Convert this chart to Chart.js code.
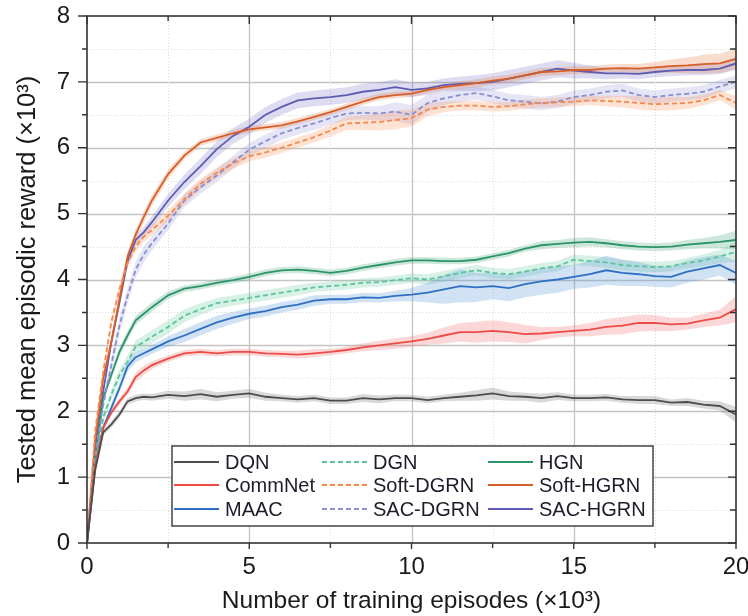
<!DOCTYPE html>
<html>
<head>
<meta charset="utf-8">
<script src="https://cdn.jsdelivr.net/npm/chart.js@4.4.0/dist/chart.umd.min.js"></script>
<style>
  html, body { margin: 0; padding: 0; background: #fff; }
  #wrap { width: 748px; height: 616px; }
</style>
</head>
<body>
<div id="wrap"><canvas id="myChart"></canvas></div>
<script>
  // training episodes (x10^3)
  const episodes = [0, 0.25, 0.5, 0.75, 1, 1.25, 1.5, 1.75, 2, 2.5, 3, 3.5, 4, 4.5, 5, 5.5, 6, 6.5, 7, 7.5, 8, 8.5, 9, 9.5,
    10, 10.5, 11, 11.5, 12, 12.5, 13, 13.5, 14, 14.5, 15, 15.5, 16, 16.5, 17, 17.5, 18, 18.5, 19, 19.5, 20];

  // mean reward (x10^3) and spread of the shaded band
  const dqn = [0, 1.1, 1.68, 1.8, 1.95, 2.15, 2.2, 2.22, 2.21, 2.25, 2.23, 2.26, 2.22, 2.25, 2.27, 2.22, 2.2, 2.18, 2.2, 2.16, 2.16, 2.2, 2.18, 2.2,
    2.2, 2.17, 2.2, 2.22, 2.24, 2.27, 2.23, 2.22, 2.2, 2.23, 2.2, 2.2, 2.21, 2.18, 2.17, 2.17, 2.13, 2.14, 2.1, 2.08, 1.95];
  const dqnSpread = [0.03, 0.04, 0.05, 0.05, 0.05, 0.05, 0.05, 0.05, 0.05, 0.06, 0.07, 0.08, 0.07, 0.06, 0.07, 0.06, 0.05, 0.05, 0.05, 0.05, 0.05, 0.06, 0.06, 0.05,
    0.05, 0.05, 0.05, 0.06, 0.08, 0.09, 0.07, 0.06, 0.07, 0.06, 0.05, 0.05, 0.05, 0.05, 0.06, 0.06, 0.05, 0.06, 0.06, 0.07, 0.12];

  const commNet = [0, 1.15, 1.75, 1.98, 2.15, 2.3, 2.52, 2.62, 2.7, 2.8, 2.88, 2.9, 2.88, 2.9, 2.9, 2.88, 2.87, 2.86, 2.88, 2.9, 2.93, 2.97, 3.0, 3.03,
    3.06, 3.1, 3.15, 3.2, 3.2, 3.22, 3.2, 3.17, 3.18, 3.2, 3.22, 3.24, 3.28, 3.3, 3.34, 3.34, 3.32, 3.33, 3.38, 3.42, 3.55];
  const commNetSpread = [0.03, 0.04, 0.05, 0.05, 0.05, 0.06, 0.07, 0.07, 0.06, 0.05, 0.05, 0.05, 0.05, 0.05, 0.05, 0.05, 0.05, 0.06, 0.06, 0.05, 0.05, 0.06, 0.07, 0.08,
    0.08, 0.09, 0.12, 0.14, 0.16, 0.16, 0.15, 0.14, 0.1, 0.08, 0.08, 0.1, 0.12, 0.13, 0.13, 0.12, 0.1, 0.09, 0.1, 0.12, 0.2];

  const maac = [0, 1.15, 1.75, 2.05, 2.35, 2.68, 2.82, 2.88, 2.94, 3.06, 3.15, 3.25, 3.35, 3.42, 3.48, 3.52, 3.58, 3.62, 3.68, 3.7, 3.7, 3.73, 3.72, 3.75,
    3.77, 3.8, 3.85, 3.9, 3.88, 3.9, 3.87, 3.93, 3.97, 4.0, 4.04, 4.08, 4.14, 4.1, 4.08, 4.05, 4.04, 4.12, 4.17, 4.22, 4.1];
  const maacSpread = [0.03, 0.04, 0.05, 0.06, 0.07, 0.08, 0.08, 0.07, 0.07, 0.08, 0.1, 0.1, 0.1, 0.09, 0.08, 0.08, 0.08, 0.08, 0.08, 0.07, 0.07, 0.07, 0.07, 0.08,
    0.1, 0.15, 0.22, 0.25, 0.22, 0.2, 0.2, 0.2, 0.2, 0.2, 0.18, 0.2, 0.22, 0.2, 0.18, 0.16, 0.16, 0.17, 0.17, 0.16, 0.18];

  const dgn = [0, 1.2, 1.9, 2.25, 2.55, 2.75, 2.98, 3.05, 3.13, 3.28, 3.45, 3.55, 3.64, 3.68, 3.72, 3.76, 3.8, 3.84, 3.88, 3.9, 3.92, 3.95, 3.96, 3.99,
    4.02, 4.0, 4.05, 4.1, 4.14, 4.1, 4.08, 4.12, 4.17, 4.2, 4.3, 4.28, 4.26, 4.22, 4.2, 4.19, 4.2, 4.25, 4.29, 4.35, 4.42];
  const dgnSpread = [0.03, 0.05, 0.07, 0.08, 0.09, 0.1, 0.1, 0.1, 0.1, 0.1, 0.1, 0.09, 0.08, 0.08, 0.08, 0.08, 0.08, 0.08, 0.07, 0.07, 0.07, 0.07, 0.07, 0.07,
    0.07, 0.08, 0.08, 0.08, 0.08, 0.08, 0.08, 0.08, 0.08, 0.08, 0.08, 0.08, 0.08, 0.08, 0.08, 0.08, 0.08, 0.08, 0.09, 0.1, 0.15];

  const hgn = [0, 1.25, 2.2, 2.55, 2.9, 3.15, 3.38, 3.48, 3.58, 3.76, 3.86, 3.9, 3.95, 3.99, 4.04, 4.1, 4.14, 4.15, 4.13, 4.1, 4.13, 4.18, 4.22, 4.26,
    4.29, 4.29, 4.28, 4.28, 4.3, 4.35, 4.4, 4.47, 4.52, 4.54, 4.56, 4.57, 4.55, 4.52, 4.5, 4.49, 4.5, 4.53, 4.55, 4.57, 4.6];
  const hgnSpread = [0.03, 0.04, 0.05, 0.06, 0.07, 0.07, 0.07, 0.07, 0.07, 0.06, 0.05, 0.05, 0.05, 0.05, 0.05, 0.05, 0.05, 0.05, 0.05, 0.05, 0.05, 0.05, 0.05, 0.05,
    0.05, 0.05, 0.05, 0.05, 0.05, 0.05, 0.05, 0.05, 0.06, 0.06, 0.07, 0.07, 0.06, 0.06, 0.06, 0.06, 0.06, 0.07, 0.08, 0.1, 0.14];

  const softDgrn = [0, 1.7, 2.6, 3.35, 3.85, 4.25, 4.5, 4.65, 4.75, 4.97, 5.22, 5.45, 5.62, 5.76, 5.87, 5.93, 6.0, 6.08, 6.16, 6.26, 6.37, 6.38, 6.39, 6.42,
    6.45, 6.58, 6.62, 6.64, 6.64, 6.62, 6.63, 6.66, 6.68, 6.69, 6.7, 6.72, 6.71, 6.7, 6.68, 6.66, 6.67, 6.68, 6.72, 6.8, 6.68];
  const softDgrnSpread = [0.04, 0.06, 0.08, 0.08, 0.08, 0.08, 0.08, 0.08, 0.08, 0.08, 0.08, 0.08, 0.08, 0.08, 0.08, 0.08, 0.08, 0.08, 0.08, 0.09, 0.1, 0.11, 0.13, 0.14,
    0.13, 0.1, 0.08, 0.07, 0.07, 0.07, 0.07, 0.07, 0.07, 0.07, 0.07, 0.07, 0.08, 0.09, 0.1, 0.1, 0.1, 0.09, 0.08, 0.08, 0.1];

  const softHgrn = [0, 1.55, 2.5, 3.05, 3.7, 4.35, 4.68, 4.95, 5.2, 5.6, 5.88, 6.08, 6.15, 6.22, 6.28, 6.31, 6.34, 6.4, 6.47, 6.54, 6.62, 6.7, 6.77, 6.8,
    6.82, 6.88, 6.92, 6.95, 6.98, 7.02, 7.05, 7.1, 7.15, 7.16, 7.18, 7.18, 7.2, 7.21, 7.2, 7.22, 7.24, 7.25, 7.27, 7.28, 7.35];
  const softHgrnSpread = [0.04, 0.06, 0.08, 0.08, 0.08, 0.08, 0.08, 0.08, 0.08, 0.07, 0.06, 0.05, 0.05, 0.05, 0.05, 0.05, 0.05, 0.05, 0.05, 0.05, 0.05, 0.05, 0.05, 0.05,
    0.05, 0.05, 0.05, 0.06, 0.06, 0.06, 0.06, 0.06, 0.06, 0.06, 0.06, 0.06, 0.06, 0.06, 0.07, 0.08, 0.1, 0.12, 0.14, 0.15, 0.15];

  const sacDgrn = [0, 1.3, 2.1, 2.7, 3.3, 3.75, 4.15, 4.38, 4.55, 4.85, 5.2, 5.4, 5.58, 5.78, 5.97, 6.1, 6.22, 6.3, 6.37, 6.45, 6.52, 6.53, 6.52, 6.55,
    6.5, 6.68, 6.75, 6.8, 6.83, 6.78, 6.72, 6.7, 6.67, 6.7, 6.77, 6.8, 6.85, 6.87, 6.8, 6.77, 6.8, 6.82, 6.85, 6.93, 7.0];
  const sacDgrnSpread = [0.04, 0.08, 0.1, 0.12, 0.12, 0.12, 0.12, 0.12, 0.11, 0.1, 0.1, 0.1, 0.1, 0.1, 0.1, 0.1, 0.1, 0.1, 0.1, 0.1, 0.1, 0.1, 0.11, 0.14,
    0.15, 0.13, 0.1, 0.1, 0.1, 0.1, 0.1, 0.1, 0.1, 0.1, 0.1, 0.1, 0.1, 0.1, 0.1, 0.1, 0.1, 0.1, 0.1, 0.1, 0.1];

  const sacHgrn = [0, 1.45, 2.3, 3.05, 3.65, 4.28, 4.6, 4.72, 4.87, 5.2, 5.48, 5.72, 5.98, 6.18, 6.32, 6.5, 6.62, 6.72, 6.75, 6.77, 6.8, 6.85, 6.88, 6.92,
    6.88, 6.9, 6.95, 6.97, 6.98, 7.0, 7.05, 7.1, 7.15, 7.2, 7.17, 7.15, 7.13, 7.13, 7.12, 7.15, 7.17, 7.18, 7.18, 7.2, 7.28];
  const sacHgrnSpread = [0.04, 0.07, 0.08, 0.08, 0.08, 0.08, 0.08, 0.08, 0.09, 0.1, 0.11, 0.12, 0.12, 0.12, 0.12, 0.12, 0.12, 0.12, 0.12, 0.12, 0.12, 0.12, 0.12, 0.12,
    0.11, 0.1, 0.1, 0.11, 0.12, 0.13, 0.13, 0.13, 0.13, 0.13, 0.12, 0.1, 0.09, 0.08, 0.08, 0.08, 0.08, 0.08, 0.08, 0.08, 0.1];

  // legend order is column by column, like the figure
  const seriesList = [
    { label: 'DQN', values: dqn, spread: dqnSpread, color: '#4d4d4d', band: 'rgba(120,120,120,0.28)', dash: [] },
    { label: 'CommNet', values: commNet, spread: commNetSpread, color: '#ee4b47', band: 'rgba(240,110,110,0.28)', dash: [] },
    { label: 'MAAC', values: maac, spread: maacSpread, color: '#2f6fc4', band: 'rgba(90,150,215,0.28)', dash: [] },
    { label: 'DGN', values: dgn, spread: dgnSpread, color: '#5cc49c', band: 'rgba(110,205,170,0.28)', dash: [5, 3] },
    { label: 'Soft-DGRN', values: softDgrn, spread: softDgrnSpread, color: '#f5894d', band: 'rgba(250,150,100,0.28)', dash: [5, 3] },
    { label: 'SAC-DGRN', values: sacDgrn, spread: sacDgrnSpread, color: '#8a8fd2', band: 'rgba(150,150,215,0.25)', dash: [5, 3] },
    { label: 'HGN', values: hgn, spread: hgnSpread, color: '#2b9569', band: 'rgba(60,160,120,0.25)', dash: [] },
    { label: 'Soft-HGRN', values: softHgrn, spread: softHgrnSpread, color: '#d75f27', band: 'rgba(230,130,80,0.28)', dash: [] },
    { label: 'SAC-HGRN', values: sacHgrn, spread: sacHgrnSpread, color: '#5f5cb3', band: 'rgba(120,115,195,0.25)', dash: [] }
  ];

  const fontFamily = "'Liberation Sans', Arial, sans-serif";

  const datasets = [];
  const lineSets = [];
  seriesList.forEach(s => {
    const lower = episodes.map((x, i) => ({ x: x, y: s.values[i] - s.spread[i] }));
    const upper = episodes.map((x, i) => ({ x: x, y: s.values[i] + s.spread[i] }));
    datasets.push({ data: lower, borderWidth: 0, pointRadius: 0, fill: false, order: 2 });
    datasets.push({ data: upper, borderWidth: 0, pointRadius: 0, fill: '-1', backgroundColor: s.band, order: 2 });
  });
  seriesList.forEach(s => {
    const line = {
      label: s.label,
      data: episodes.map((x, i) => ({ x: x, y: s.values[i] })),
      borderColor: s.color,
      borderWidth: 1.8,
      borderDash: s.dash,
      pointRadius: 0,
      fill: false,
      tension: 0,
      order: 1
    };
    datasets.push(line);
    lineSets.push(line);
  });

  // grid, frame, inner/outer ticks and the boxed legend
  const framePlugin = {
    id: 'frame',
    beforeDatasetsDraw(chart) {
      const { ctx, chartArea: a, scales: { x, y } } = chart;
      ctx.save();
      for (let v = 0.5; v < 8; v += 0.5) {
        const py = Math.round(y.getPixelForValue(v)) + 0.5;
        ctx.beginPath();
        if (v % 1 === 0) { ctx.strokeStyle = '#c4c4c4'; ctx.lineWidth = 1.3; ctx.setLineDash([]); }
        else { ctx.strokeStyle = '#dadada'; ctx.lineWidth = 1; ctx.setLineDash([1, 2]); }
        ctx.moveTo(a.left, py); ctx.lineTo(a.right, py); ctx.stroke();
      }
      for (let v = 2.5; v < 20; v += 2.5) {
        const px = Math.round(x.getPixelForValue(v)) + 0.5;
        ctx.beginPath();
        if (v % 5 === 0) { ctx.strokeStyle = '#c4c4c4'; ctx.lineWidth = 1.3; ctx.setLineDash([]); }
        else { ctx.strokeStyle = '#dadada'; ctx.lineWidth = 1; ctx.setLineDash([1, 2]); }
        ctx.moveTo(px, a.top); ctx.lineTo(px, a.bottom); ctx.stroke();
      }
      ctx.restore();
    },
    afterDatasetsDraw(chart) {
      const { ctx, chartArea: a, scales: { x, y } } = chart;
      ctx.save();
      ctx.setLineDash([]);
      ctx.strokeStyle = '#333';
      ctx.lineWidth = 1.6;
      ctx.strokeRect(a.left, a.top, a.right - a.left, a.bottom - a.top);
      ctx.lineWidth = 1.4;
      ctx.beginPath();
      for (let v = 0; v <= 8; v += 0.5) {
        const py = y.getPixelForValue(v);
        const major = v % 1 === 0;
        ctx.moveTo(a.left - (major ? 9 : 5), py); ctx.lineTo(a.left, py);
        ctx.moveTo(a.right - (major ? 8 : 6), py); ctx.lineTo(a.right, py);
      }
      for (let v = 0; v <= 20; v += 2.5) {
        const px = x.getPixelForValue(v);
        const major = v % 5 === 0;
        ctx.moveTo(px, a.bottom); ctx.lineTo(px, a.bottom + (major ? 6 : 5));
        ctx.moveTo(px, a.top); ctx.lineTo(px, a.top + (major ? 8 : 5));
      }
      ctx.stroke();

      // legend box
      const box = { left: 172, top: 446, right: 653, bottom: 526 };
      ctx.fillStyle = '#fff';
      ctx.fillRect(box.left, box.top, box.right - box.left, box.bottom - box.top);
      ctx.strokeStyle = '#444';
      ctx.lineWidth = 1.5;
      ctx.strokeRect(box.left, box.top, box.right - box.left, box.bottom - box.top);
      const colX = [174, 322, 488];
      const rowY = [462, 485, 509];
      ctx.font = '20px ' + fontFamily;
      ctx.textBaseline = 'middle';
      lineSets.forEach((ds, i) => {
        const cx = colX[Math.floor(i / 3)];
        const cy = rowY[i % 3];
        ctx.beginPath();
        ctx.strokeStyle = ds.borderColor;
        ctx.lineWidth = 2;
        ctx.setLineDash(ds.borderDash);
        ctx.moveTo(cx, cy); ctx.lineTo(cx + 45, cy); ctx.stroke();
        ctx.setLineDash([]);
        ctx.fillStyle = '#1c1c2a';
        ctx.fillText(ds.label, cx + 51, cy + 1);
      });
      ctx.restore();
    }
  };

  const ctx = document.getElementById('myChart').getContext('2d');
  const myChart = new Chart(ctx, {
    type: 'line',
    data: { datasets },
    options: {
      responsive: true,
      maintainAspectRatio: false,
      animation: false,
      layout: { padding: { top: 16, right: 12, left: 0, bottom: 0 } },
      scales: {
        x: {
          type: 'linear',
          min: 0,
          max: 20,
          ticks: { stepSize: 5, padding: 10, color: '#1a1a1a', font: { family: fontFamily, size: 24 }, maxRotation: 0 },
          grid: { display: false, drawTicks: false },
          border: { display: false },
          title: { display: true, text: 'Number of training episodes (×10³)', color: '#1a1a1a', padding: { top: 0, bottom: 0 }, font: { family: fontFamily, size: 24.5 } },
          afterFit(scale) { scale.height = 73; scale.paddingLeft = 0; scale.paddingRight = 0; }
        },
        y: {
          min: 0,
          max: 8,
          ticks: { stepSize: 1, padding: 17, color: '#1a1a1a', font: { family: fontFamily, size: 24 } },
          grid: { display: false, drawTicks: false },
          border: { display: false },
          title: { display: true, text: 'Tested mean episodic reward (×10³)', color: '#1a1a1a', padding: { top: 13, bottom: 0 }, font: { family: fontFamily, size: 25.5 } },
          afterFit(scale) { scale.width = 87; scale.paddingTop = 0; scale.paddingBottom = 0; }
        }
      },
      plugins: {
        legend: { display: false },
        tooltip: { enabled: false }
      }
    },
    plugins: [framePlugin]
  });
</script>
</body>
</html>
